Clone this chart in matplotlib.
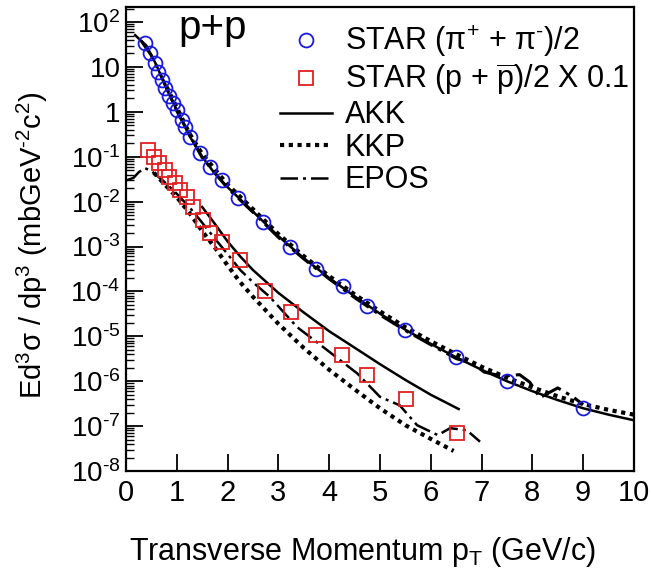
import matplotlib
matplotlib.use("Agg")
import matplotlib.pyplot as plt
from matplotlib.lines import Line2D
from matplotlib.ticker import FixedLocator, LogLocator, NullFormatter

plt.rcParams["font.family"] = ["Liberation Sans", "DejaVu Sans"]
plt.rcParams["mathtext.fontset"] = "custom"
plt.rcParams["mathtext.rm"] = "Liberation Sans"
plt.rcParams["mathtext.it"] = "Liberation Sans:italic"
plt.rcParams["mathtext.bf"] = "Liberation Sans:bold"

# STAR pions (pi+ + pi-)/2
pion_pt = [0.37, 0.47, 0.57, 0.63, 0.71, 0.77, 0.85, 0.93, 1.00, 1.10, 1.16, 1.26,
           1.46, 1.65, 1.89, 2.20, 2.70, 3.23, 3.74, 4.27, 4.74, 5.50, 6.50, 7.50, 9.00]
pion_y = [34, 20, 12.3, 7.7, 5.1, 3.4, 2.3, 1.57, 1.10, 0.66, 0.46, 0.27,
          0.12, 0.059, 0.030, 0.012, 0.0035, 9.8e-4, 3.2e-4, 1.3e-4, 4.7e-5, 1.4e-5,
          3.4e-6, 1.0e-6, 2.5e-7]

# STAR protons (p + pbar)/2 x 0.1
prot_pt = [0.43, 0.55, 0.65, 0.77, 0.85, 0.96, 1.06, 1.20, 1.32, 1.52, 1.65, 1.89,
           2.24, 2.74, 3.25, 3.74, 4.25, 4.74, 5.51, 6.52]
prot_y = [0.14, 0.098, 0.072, 0.050, 0.035, 0.026, 0.018, 0.0126, 0.0075, 0.0039,
          0.0020, 0.00126, 5.0e-4, 1.0e-4, 3.5e-5, 1.06e-5, 3.8e-6, 1.37e-6, 4.0e-7, 7.0e-8]

# AKK (pion)
akk_pi_pt = [0.18, 0.4, 0.6, 0.8, 1.0, 1.25, 1.5, 1.75, 2.0, 2.5, 3.0, 3.5, 4.0, 4.5,
             5.0, 5.5, 6.0, 6.5, 7.0, 7.5, 8.0, 8.5, 9.0, 9.5, 10.0]
akk_pi_y = [51, 30, 11, 3.2, 1.1, 0.29, 0.10, 0.042, 0.021, 0.0060, 0.0017, 5.5e-4,
            2.0e-4, 7.8e-5, 3.2e-5, 1.4e-5, 6.8e-6, 3.4e-6, 1.8e-6, 1.0e-6, 6.0e-7,
            3.8e-7, 2.5e-7, 1.8e-7, 1.35e-7]

# KKP (pion)
kkp_pi_pt = [0.8, 1.0, 1.25, 1.5, 2.0, 2.5, 3.0, 3.5, 4.0, 4.5, 5.0, 5.5, 6.0, 6.5,
             7.0, 7.5, 8.0, 8.5, 9.0, 9.5, 10.0]
kkp_pi_y = [3.6, 1.25, 0.33, 0.115, 0.024, 0.0068, 0.0019, 6.1e-4, 2.2e-4, 8.6e-5,
            3.6e-5, 1.6e-5, 7.8e-6, 4.0e-6, 2.1e-6, 1.2e-6, 7.3e-7, 4.6e-7, 3.1e-7,
            2.3e-7, 1.8e-7]

# EPOS (pion)
epos_pi_pt = [0.3, 0.5, 0.75, 1.0, 1.5, 2.0, 2.5, 3.0, 3.5, 4.0, 4.5, 5.0, 5.5, 6.0,
              6.5, 6.85, 7.05, 7.4, 7.75, 7.95, 8.15, 8.5, 8.8, 9.0]
epos_pi_y = [38, 18, 4.6, 1.05, 0.095, 0.020, 0.0058, 0.0016, 5.3e-4, 1.9e-4, 7.3e-5,
             3.0e-5, 1.35e-5, 6.5e-6, 3.2e-6, 2.4e-6, 1.6e-6, 1.3e-6, 1.4e-6, 9.5e-7,
             4.3e-7, 7.1e-7, 4.5e-7, 3.0e-7]

# AKK (proton)
akk_p_pt = [1.5, 1.75, 2.0, 2.25, 2.5, 3.0, 3.5, 4.0, 4.5, 5.0, 5.5, 6.0, 6.55]
akk_p_y = [7.6e-3, 3.2e-3, 1.3e-3, 6.0e-4, 3.0e-4, 9.3e-5, 3.4e-5, 1.3e-5, 5.6e-6,
           2.4e-6, 1.07e-6, 5.0e-7, 2.4e-7]

# KKP (proton)
kkp_p_pt = [0.55, 0.75, 1.0, 1.25, 1.5, 1.75, 2.0, 2.25, 2.5, 3.0, 3.5, 4.0, 4.5,
            5.0, 5.5, 6.0, 6.45]
kkp_p_y = [0.044, 0.025, 0.0126, 5.6e-3, 2.2e-3, 9.5e-4, 3.8e-4, 1.6e-4, 7.6e-5,
           1.9e-5, 5.5e-6, 1.8e-6, 6.6e-7, 2.5e-7, 1.05e-7, 5.2e-8, 2.8e-8]

# EPOS (proton)
epos_p_pt = [0.02, 0.15, 0.25, 0.37, 0.5, 0.75, 1.0, 1.25, 1.5, 1.75, 2.0, 2.25, 2.5,
             2.83, 3.37, 3.88, 4.55, 5.0, 5.39, 5.73, 6.14, 6.38, 6.71, 6.97]
epos_p_y = [0.030, 0.034, 0.045, 0.056, 0.048, 0.028, 0.015, 7.5e-3, 3.4e-3, 1.5e-3,
            6.8e-4, 3.0e-4, 1.6e-4, 7.6e-5, 1.6e-5, 5.8e-6, 1.5e-6, 4.5e-7, 2.9e-7,
            1.05e-7, 6.3e-8, 9e-8, 8.1e-8, 4.5e-8]

y_ticks = [1e2, 1e1, 1e0, 1e-1, 1e-2, 1e-3, 1e-4, 1e-5, 1e-6, 1e-7, 1e-8]
y_tick_labels = [r"$10^{2}$", "10", "1", r"$10^{‐1}$", r"$10^{‐2}$", r"$10^{‐3}$",
                 r"$10^{‐4}$", r"$10^{‐5}$", r"$10^{‐6}$", r"$10^{‐7}$", r"$10^{‐8}$"]
x_ticks = list(range(0, 11))

DOTTED = (0, (1.0, 1.1))
DASHDOT = (0, (7, 2, 1.2, 2))


def main():
    fig = plt.figure(figsize=(6.51, 5.71), dpi=100)
    ax = fig.add_axes([0.1935, 0.1751, 0.7803, 0.8126])

    ax.plot(akk_pi_pt, akk_pi_y, color="black", lw=1.8)
    ax.plot(kkp_pi_pt, kkp_pi_y, color="black", lw=3.0, ls=DOTTED)
    ax.plot(epos_pi_pt, epos_pi_y, color="black", lw=2.2, ls=DASHDOT)
    ax.plot(akk_p_pt, akk_p_y, color="black", lw=1.8)
    ax.plot(kkp_p_pt, kkp_p_y, color="black", lw=3.0, ls=DOTTED)
    ax.plot(epos_p_pt, epos_p_y, color="black", lw=1.8, ls=DASHDOT)

    ax.plot(pion_pt, pion_y, ls="none", marker="o", ms=10, mfc="none",
            mec="#1a1adc", mew=1.3)
    ax.plot(prot_pt, prot_y, ls="none", marker="s", ms=10, mfc="none",
            mec="#e02020", mew=1.3)

    ax.set_yscale("log")
    ax.set_xlim(0, 10)
    ax.set_ylim(1e-8, 2.16e2)

    ax.yaxis.set_major_locator(FixedLocator(y_ticks))
    ax.set_yticklabels(y_tick_labels)
    ax.yaxis.set_minor_locator(LogLocator(base=10, subs=range(2, 10), numticks=30))
    ax.yaxis.set_minor_formatter(NullFormatter())
    ax.set_xticks(x_ticks)
    ax.set_xticklabels([str(v) for v in x_ticks])

    ax.tick_params(axis="both", which="major", direction="in", length=12, width=1.3,
                   labelsize=21, top=False, right=False)
    ax.tick_params(axis="y", which="major", labelsize=20, pad=4)
    ax.tick_params(axis="y", which="minor", direction="in", length=6, width=1.0,
                   right=False)
    ax.tick_params(axis="x", which="major", pad=6)
    for sp in ax.spines.values():
        sp.set_linewidth(1.6)

    ax.set_xlabel(r"Transverse Momentum p$_{\mathrm{T}}$ (GeV/c)", fontsize=22)
    ax.xaxis.set_label_coords(0.465, -0.138)
    ax.set_ylabel(r"Ed$^3$σ / dp$^3$ (mbGeV$^{‐2}$c$^2$)", fontsize=21)
    ax.yaxis.set_label_coords(-0.15, 0.487)

    ax.text(0.103, 0.955, "p+p", transform=ax.transAxes, fontsize=29, va="center")

    handles = [
        Line2D([], [], ls="none", marker="o", ms=10, mfc="none", mec="#1a1adc", mew=1.3),
        Line2D([], [], ls="none", marker="s", ms=10, mfc="none", mec="#e02020", mew=1.3),
        Line2D([], [], color="black", lw=1.8),
        Line2D([], [], color="black", lw=3.0, ls=DOTTED),
        Line2D([], [], color="black", lw=1.8, ls=DASHDOT),
    ]
    labels = [
        r"STAR (π$^{+}$ + π$^{‐}$)/2",
        r"STAR (p + $\overline{\mathrm{p}}$)/2 X 0.1",
        "AKK",
        "KKP",
        "EPOS",
    ]
    ax.legend(handles, labels, loc="upper left", bbox_to_anchor=(0.262, 1.01),
              frameon=False, fontsize=22, handlelength=1.7, handletextpad=0.4,
              labelspacing=0.08, borderaxespad=0.3)

    fig.savefig("out.png", dpi=100)
    plt.close(fig)


if __name__ == "__main__":
    main()
